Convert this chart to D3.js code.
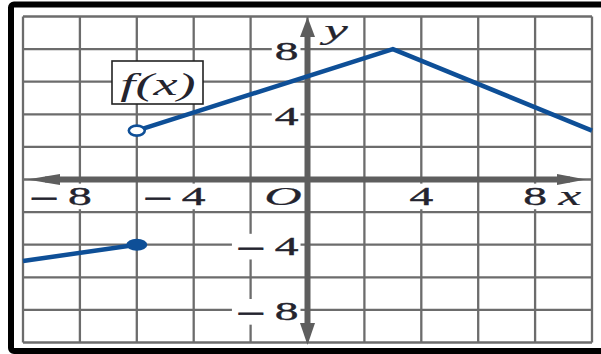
<!DOCTYPE html>
<html><head><meta charset="utf-8">
<script src="https://cdn.jsdelivr.net/npm/d3@7"></script>
<style>html,body{margin:0;padding:0;background:#fff;overflow:hidden}</style>
</head><body>
<script>
// ---- data ----
const gridValues = [-10,-8,-6,-4,-2,0,2,4,6,8,10];
const xTickLabels = [-8, -4, 4, 8];
const yTickLabels = [8, 4, -4, -8];
const seg1X = [-10, -6], seg1Y = [-5, -4];          // ends in closed dot at (-6,-4)
const seg2X = [-6, 3, 10], seg2Y = [3, 8, 3];       // starts with open circle at (-6,3)
const closedPoint = [{x:-6, y:-4}];
const openPoint = [{x:-6, y:3}];
const funcLabel = "f(x)";

const W = 601, H = 354;
const svg = d3.select("body").append("svg").attr("width", W).attr("height", H)
  .style("display","block");
svg.append("rect").attr("width", W).attr("height", H).attr("fill", "#fff");

const x = d3.scaleLinear().domain([-10,10]).range([23, 592]);
const y = d3.scaleLinear().domain([-10,10]).range([342.5, 16.5]);
const SX = 1.9;
const textColor = "#24242e";
const blue = "#0e4f97";

// frame
svg.append("rect").attr("x", 11).attr("y", 4.5).attr("width", 640).attr("height", 346.5)
  .attr("rx", 3).attr("fill", "none").attr("stroke", "#000").attr("stroke-width", 6);

// grid
const grid = svg.append("g").attr("stroke", "#6c6c6c").attr("stroke-width", 2.3);
grid.selectAll("line.v").data(gridValues).join("line").attr("class","v")
  .attr("x1", d => x(d)).attr("x2", d => x(d)).attr("y1", y(10)).attr("y2", y(-10));
grid.selectAll("line.h").data(gridValues).join("line").attr("class","h")
  .attr("y1", d => y(d)).attr("y2", d => y(d)).attr("x1", x(-10)).attr("x2", x(10));

const fmt = v => v < 0 ? ["\u2212", String(-v)] : [null, String(v)];
const FS = 25;

function makeLabel(g, v, px, py, anchorEnd) {
  const [m, dgt] = fmt(v);
  const t = g.append("text")
    .attr("transform", `translate(${px},${py}) scale(${SX},1)`)
    .attr("font-family", "Liberation Serif, Times New Roman, serif")
    .attr("font-size", FS).attr("fill", textColor)
    .attr("stroke", textColor).attr("stroke-width", 0.35)
    .attr("text-anchor", "end")
    .attr("x", anchorEnd);
  if (m) t.append("tspan").attr("font-family", "DejaVu Sans").attr("font-size", 20)
    .attr("stroke-width", 0.7).text(m);
  t.append("tspan").attr("dx", m ? 4.2 : 0).text(dgt);
  return t;
}

const knock = svg.append("g");
const axesG = svg.append("g");
const labels = svg.append("g");

// x labels: digit centred on tick
xTickLabels.forEach(v => {
  makeLabel(labels, v, x(v), 205, FS*0.25);
});
// y labels: right aligned left of axis
yTickLabels.forEach(v => {
  makeLabel(labels, v, x(0) - 9, y(v) + 10.5, 0);
});

// knockouts behind numeric labels
labels.selectAll("text").each(function() {
  const b = this.getBoundingClientRect();
  knock.append("rect").attr("x", b.left - 3).attr("y", b.top + 1)
    .attr("width", b.width + 5).attr("height", b.height - 2).attr("fill", "#fff");
});

// axes
const axisColor = "#5e5e5e";
const y0 = y(0), x0 = x(0);
axesG.append("line").attr("x1", 45).attr("x2", 570).attr("y1", y0).attr("y2", y0)
  .attr("stroke", axisColor).attr("stroke-width", 6);
axesG.append("line").attr("x1", x0).attr("x2", x0).attr("y1", 30).attr("y2", 330)
  .attr("stroke", axisColor).attr("stroke-width", 6);
const tri = pts => axesG.append("path").attr("d", "M" + pts.map(p => p.join(",")).join("L") + "Z").attr("fill", axisColor);
tri([[27,y0],[60,y0-5.5],[60,y0+5.5]]);
tri([[586,y0],[557,y0-5.5],[557,y0+5.5]]);
tri([[x0,17],[x0-7.5,37],[x0+7.5,37]]);
tri([[x0,345],[x0-7.5,323],[x0+7.5,323]]);

// italic labels
const ital = (txt, px, py, fs, sx, sw) => svg.append("text")
  .attr("transform", `translate(${px},${py}) scale(${sx},1)`)
  .attr("font-family", "Liberation Serif, Times New Roman, serif")
  .attr("font-style", "italic").attr("font-size", fs).attr("fill", textColor)
  .attr("stroke", textColor).attr("stroke-width", sw)
  .attr("text-anchor", "middle").text(txt);
ital("x", 570, 205, 27, SX, 0.2);
ital("y", 336, 39, 28, SX, 0.2);
ital("O", 283, 205, 26, 2.0, 0.2);

// data lines
const line = d3.line().x(d => x(d[0])).y(d => y(d[1]));
svg.append("path").datum(d3.zip(seg1X, seg1Y)).attr("d", line)
  .attr("fill","none").attr("stroke", blue).attr("stroke-width", 4.5).attr("stroke-linejoin","round");
svg.append("path").datum(d3.zip(seg2X, seg2Y)).attr("d", line)
  .attr("fill","none").attr("stroke", blue).attr("stroke-width", 4.5).attr("stroke-linejoin","round");
svg.selectAll("ellipse.closed").data(closedPoint).join("ellipse").attr("class","closed")
  .attr("cx", d => x(d.x)).attr("cy", d => y(d.y)).attr("rx", 10.5).attr("ry", 6).attr("fill", blue);
svg.selectAll("ellipse.open").data(openPoint).join("ellipse").attr("class","open")
  .attr("cx", d => x(d.x)).attr("cy", d => y(d.y)).attr("rx", 8).attr("ry", 5)
  .attr("fill", "#fff").attr("stroke", blue).attr("stroke-width", 2.6);

// f(x) box
svg.append("rect").attr("x", 112).attr("y", 61).attr("width", 91).attr("height", 43)
  .attr("fill", "#fff").attr("stroke", "#222").attr("stroke-width", 1.6);
ital(funcLabel, 158, 95, 31, 1.75, 0);
</script>
</body></html>
